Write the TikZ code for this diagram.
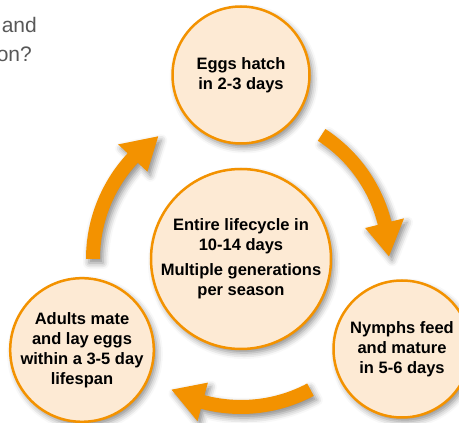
\documentclass[tikz,border=0pt]{standalone}
\usepackage{fontspec}
\setmainfont{Liberation Sans}
\usetikzlibrary{shadows.blur,calc}
\definecolor{myorange}{RGB}{243,146,0}
\definecolor{peach}{RGB}{253,234,212}
\definecolor{graytext}{RGB}{88,88,88}
\tikzset{
  softshadow/.style={blur shadow={shadow xshift=3pt, shadow yshift=-4pt, shadow blur radius=6pt, shadow opacity=45}},
  stage/.style={circle, draw=myorange, line width=2.5pt, fill=peach, inner sep=0pt,
    align=center, font=\fontsize{16.5}{20}\selectfont\bfseries, softshadow},
  arrowfill/.style={fill=myorange, draw=none, softshadow},
  sidetext/.style={text=graytext, font=\fontsize{21}{25}\selectfont, inner sep=0pt}
}
\begin{document}
\begin{tikzpicture}[x=1pt,y=1pt]
\useasboundingbox (0,0) rectangle (459,423);
\clip (0,0) rectangle (459,423);
\coordinate (C) at (241,164);
% arrows
\foreach \t in {180,57,-62}{
  \pgfmathsetmacro\ta{\t}
  \pgfmathsetmacro\tb{\t-43}
  \pgfmathsetmacro\tc{\t-56}
  \fill[arrowfill] ($(C)+(\ta:155pt)$) arc[start angle=\ta, end angle=\tb, radius=155pt]
    -- ($(C)+(\tb:168pt)$) -- ($(C)+(\tc:148pt)$) -- ($(C)+(\tb:128pt)$)
    -- ($(C)+(\tb:141pt)$) arc[start angle=\tb, end angle=\ta, radius=141pt] -- cycle;
}
% circles
\node[stage, minimum size=137pt] (eggs) at (241,348) {Eggs hatch\\in 2-3 days};
\node[stage, minimum size=180pt] (centre) at (C) {Entire lifecycle in\\10-14 days\\[5pt]Multiple generations\\per season};
\node[stage, minimum size=137pt] (nymphs) at (402,74) {Nymphs feed\\and mature\\in 5-6 days};
\node[stage, minimum size=137pt] (adults) at (82,73) {Adults mate\\and lay eggs\\within a 3-5 day\\lifespan};
% side text
\node[sidetext, anchor=base east] (t1) at (37,390) {and};
\node[sidetext, anchor=base east] (t2) at (32,361) {on?};
\end{tikzpicture}
\end{document}
